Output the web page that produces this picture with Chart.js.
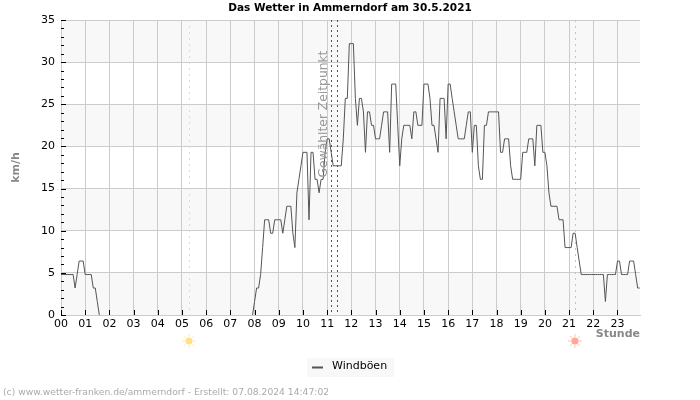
<!DOCTYPE html>
<html>
<head>
<meta charset="utf-8">
<style>body { margin: 0; background: #fff; }</style>
<script src="https://cdn.jsdelivr.net/npm/chart.js@4"></script>
</head>
<body>
<canvas id="myChart" width="700" height="400"></canvas>
<script>
// Windboeen in km/h, one row per hour, 5 minute values. null = line not visible (calm)
var hour00 = [4.8, 4.8, 4.8, 4.8, 4.8, 4.8, 4.8, 3.2, 4.8, 6.4, 6.4, 6.4];
var hour01 = [4.8, 4.8, 4.8, 4.8, 3.2, 3.2, 1.6, 0, null, null, null, null];
var hour02 = [null, null, null, null, null, null, null, null, null, null, null, null];
var hour03 = [null, null, null, null, null, null, null, null, null, null, null, null];
var hour04 = [null, null, null, null, null, null, null, null, null, null, null, null];
var hour05 = [null, null, null, null, null, null, null, null, null, null, null, null];
var hour06 = [null, null, null, null, null, null, null, null, null, null, null, null];
var hour07 = [null, null, null, null, null, null, null, null, null, null, null, 0];
var hour08 = [1.6, 3.2, 3.2, 4.8, 8, 11.3, 11.3, 11.3, 9.7, 9.7, 11.3, 11.3];
var hour09 = [11.3, 11.3, 9.7, 11.3, 12.9, 12.9, 12.9, 9.7, 8, 14.5, 16.1, 17.7];
var hour10 = [19.3, 19.3, 19.3, 11.3, 19.3, 19.3, 16.1, 16.1, 14.5, 16.1, 16.1, 19.3];
var hour11 = [20.9, 20.9, 19.3, 17.7, 17.7, 17.7, 17.7, 17.7, 20.9, 25.7, 25.7, 32.2];
var hour12 = [32.2, 32.2, 25.7, 22.5, 25.7, 25.7, 24.1, 19.3, 24.1, 24.1, 22.5, 22.5];
var hour13 = [20.9, 20.9, 20.9, 22.5, 24.1, 24.1, 24.1, 19.3, 27.4, 27.4, 27.4, 22.5];
var hour14 = [17.7, 20.9, 22.5, 22.5, 22.5, 22.5, 20.9, 24.1, 24.1, 22.5, 22.5, 22.5];
var hour15 = [27.4, 27.4, 27.4, 25.7, 22.5, 22.5, 20.9, 19.3, 25.7, 25.7, 25.7, 20.9];
var hour16 = [27.4, 27.4, 25.7, 24.1, 22.5, 20.9, 20.9, 20.9, 20.9, 22.5, 24.1, 24.1];
var hour17 = [19.3, 22.5, 22.5, 17.7, 16.1, 16.1, 22.5, 22.5, 24.1, 24.1, 24.1, 24.1];
var hour18 = [24.1, 24.1, 19.3, 19.3, 20.9, 20.9, 20.9, 17.7, 16.1, 16.1, 16.1, 16.1];
var hour19 = [16.1, 19.3, 19.3, 19.3, 20.9, 20.9, 20.9, 17.7, 22.5, 22.5, 22.5, 19.3];
var hour20 = [19.3, 17.7, 14.5, 12.9, 12.9, 12.9, 12.9, 11.3, 11.3, 11.3, 8, 8];
var hour21 = [8, 8, 9.7, 9.7, 8, 6.4, 4.8, 4.8, 4.8, 4.8, 4.8, 4.8];
var hour22 = [4.8, 4.8, 4.8, 4.8, 4.8, 4.8, 1.6, 4.8, 4.8, 4.8, 4.8, 4.8];
var hour23 = [6.4, 6.4, 4.8, 4.8, 4.8, 4.8, 6.4, 6.4, 6.4, 4.8, 3.2, 3.2];

var hourLabels = ['00', '01', '02', '03', '04', '05', '06', '07', '08', '09', '10', '11',
    '12', '13', '14', '15', '16', '17', '18', '19', '20', '21', '22', '23'];
var sunrise = 5.29;
var sunset = 21.24;
var selectedTime = [11.15, 11.4];

var windboeen = [].concat(hour00, hour01, hour02, hour03, hour04, hour05, hour06, hour07,
    hour08, hour09, hour10, hour11, hour12, hour13, hour14, hour15, hour16, hour17,
    hour18, hour19, hour20, hour21, hour22, hour23);

var points = windboeen.map(function (v, i) {
    return { x: i / 12, y: v };
});

var FONT = '"DejaVu Sans"';
var TITLE = 'Das Wetter in Ammerndorf am 30.5.2021';

function sun(ctx, x, y, color) {
    ctx.save();
    ctx.strokeStyle = color;
    ctx.fillStyle = color;
    ctx.lineWidth = 1;
    ctx.globalAlpha = 0.7;
    for (var a = 0; a < 8; a++) {
        var r = a * Math.PI / 4;
        ctx.beginPath();
        ctx.moveTo(x + Math.cos(r) * 4, y + Math.sin(r) * 4);
        ctx.lineTo(x + Math.cos(r) * 7, y + Math.sin(r) * 7);
        ctx.stroke();
    }
    ctx.globalAlpha = 1;
    ctx.beginPath();
    ctx.arc(x, y, 3.6, 0, Math.PI * 2);
    ctx.fill();
    ctx.restore();
}

// white / grey bands behind the grid
var bandsPlugin = {
    id: 'bands',
    beforeDraw: function (chart) {
        var ctx = chart.ctx, a = chart.chartArea, y = chart.scales.y;
        ctx.save();
        ctx.fillStyle = '#f8f8f8';
        for (var v = 0; v < 35; v += 10) {
            var top = y.getPixelForValue(v + 5), bottom = y.getPixelForValue(v);
            ctx.fillRect(a.left, top, a.right - a.left, bottom - top);
        }
        ctx.restore();
    }
};

var extrasPlugin = {
    id: 'extras',
    beforeDatasetsDraw: function (chart) {
        var ctx = chart.ctx, a = chart.chartArea, x = chart.scales.x, y = chart.scales.y;
        ctx.save();

        // ticks inside the plot
        ctx.strokeStyle = '#000';
        ctx.lineWidth = 1;
        for (var v = 0; v <= 35; v++) {
            var py = Math.round(y.getPixelForValue(v)) + 0.5;
            ctx.beginPath();
            ctx.moveTo(a.left, py);
            ctx.lineTo(a.left + (v % 5 === 0 ? 5 : 3), py);
            ctx.stroke();
        }
        hourLabels.forEach(function (l, h) {
            var px = Math.round(x.getPixelForValue(h)) + 0.5;
            ctx.beginPath();
            ctx.moveTo(px, a.bottom);
            ctx.lineTo(px, a.bottom - 5);
            ctx.stroke();
        });

        // sun lines
        ctx.setLineDash([2, 4]);
        ctx.strokeStyle = '#f2e27a';
        var sx = Math.round(x.getPixelForValue(sunrise)) + 0.5;
        ctx.beginPath(); ctx.moveTo(sx, a.top); ctx.lineTo(sx, a.bottom - 5); ctx.stroke();
        ctx.strokeStyle = '#f5bd6a';
        var ex = Math.round(x.getPixelForValue(sunset)) + 0.5;
        ctx.beginPath(); ctx.moveTo(ex, a.top); ctx.lineTo(ex, a.bottom - 5); ctx.stroke();

        // selected time
        ctx.setLineDash([2, 3]);
        ctx.strokeStyle = '#555';
        selectedTime.forEach(function (t) {
            var px = Math.round(x.getPixelForValue(t)) + 0.5;
            ctx.beginPath(); ctx.moveTo(px, a.top); ctx.lineTo(px, a.bottom); ctx.stroke();
        });
        ctx.setLineDash([]);
        ctx.restore();
    },
    afterDraw: function (chart) {
        var ctx = chart.ctx, x = chart.scales.x;
        ctx.save();
        ctx.textBaseline = 'middle';

        ctx.fillStyle = '#000';
        ctx.font = 'bold 10.5px ' + FONT;
        ctx.textAlign = 'center';
        ctx.fillText(TITLE, 350, 8);

        ctx.fillStyle = '#999';
        ctx.font = '12.3px ' + FONT;
        ctx.save();
        ctx.translate(323.5, 114);
        ctx.rotate(-Math.PI / 2);
        ctx.fillText('Gewählter Zeitpunkt', 0, 0);
        ctx.restore();

        sun(ctx, x.getPixelForValue(sunrise), 341, '#fde28c');
        sun(ctx, x.getPixelForValue(sunset), 341, '#ffa896');

        // Stunde
        ctx.fillStyle = '#888';
        ctx.font = 'bold 11px ' + FONT;
        ctx.textAlign = 'right';
        ctx.fillText('Stunde', 640, 334);

        // legend
        ctx.fillStyle = '#f8f8f8';
        ctx.fillRect(307, 358, 87, 19);
        ctx.strokeStyle = '#555';
        ctx.lineWidth = 2;
        ctx.beginPath(); ctx.moveTo(312, 367.5); ctx.lineTo(323, 367.5); ctx.stroke();
        ctx.fillStyle = '#000';
        ctx.font = '11px ' + FONT;
        ctx.textAlign = 'left';
        ctx.fillText(chart.data.datasets[0].label, 332, 366.5);

        // footer
        ctx.fillStyle = '#aaa';
        ctx.font = '9.2px ' + FONT;
        ctx.fillText('(c) www.wetter-franken.de/ammerndorf - Erstellt: 07.08.2024 14:47:02', 3, 393);
        ctx.restore();
    }
};

var config = {
    type: 'line',
    data: {
        datasets: [{
            label: 'Windböen',
            data: points,
            borderColor: '#555',
            borderWidth: 1,
            pointRadius: 0,
            tension: 0,
            spanGaps: false
        }]
    },
    options: {
        responsive: false,
        animation: false,
        layout: { padding: { top: 20, right: 60 } },
        plugins: {
            legend: { display: false },
            tooltip: { enabled: false },
            title: { display: false }
        },
        scales: {
            x: {
                type: 'linear',
                min: 0,
                max: 23.93,
                afterFit: function (s) { s.height = 85; },
                afterBuildTicks: function (s) {
                    s.ticks = hourLabels.map(function (l, h) { return { value: h }; });
                },
                ticks: {
                    autoSkip: false,
                    maxRotation: 0,
                    padding: 3,
                    color: '#000',
                    font: { family: FONT, size: 11 },
                    callback: function (v) { return hourLabels[v]; }
                },
                grid: { color: '#ccc', drawTicks: false },
                border: { color: '#ccc' }
            },
            y: {
                min: 0,
                max: 35,
                afterFit: function (s) { s.width = 61; },
                ticks: {
                    stepSize: 5,
                    padding: 6,
                    color: '#000',
                    font: { family: FONT, size: 11 }
                },
                title: {
                    display: true,
                    text: 'km/h',
                    color: '#888',
                    font: { family: FONT, size: 11, weight: 'bold' },
                    padding: { top: 10, bottom: 0 }
                },
                grid: { color: '#ccc', drawTicks: false },
                border: { color: '#ccc' }
            }
        }
    },
    plugins: [bandsPlugin, extrasPlugin]
};

var myChart = new Chart(document.getElementById('myChart'), config);
</script>
</body>
</html>
